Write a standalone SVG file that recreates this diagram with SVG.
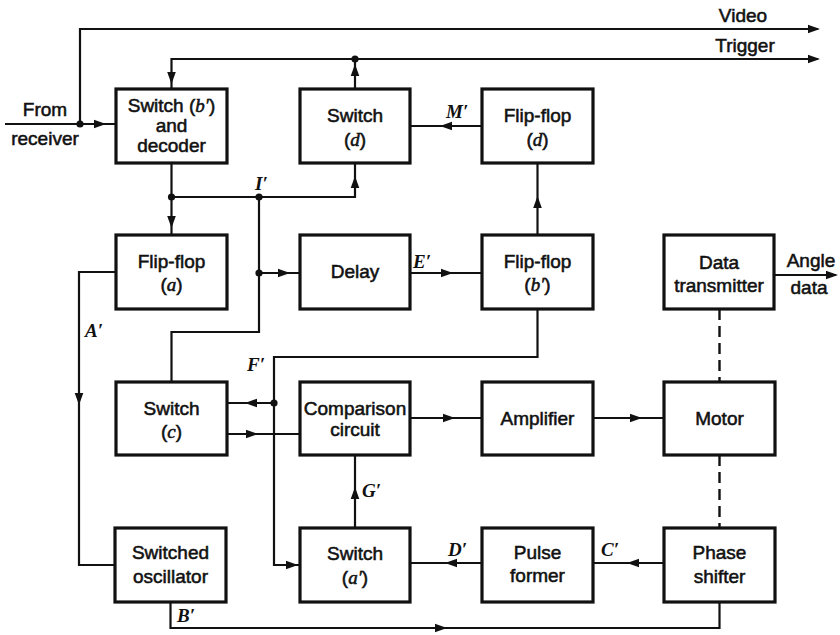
<svg xmlns="http://www.w3.org/2000/svg" width="840" height="635" viewBox="0 0 840 635">
<defs>
<style>
.bx{fill:#fff;stroke:#111;stroke-width:3.2}
.ln{fill:none;stroke:#111;stroke-width:2.2}
.da{fill:none;stroke:#111;stroke-width:2.4;stroke-dasharray:11 6}
.t{font-family:"Liberation Sans",Arial,sans-serif;font-size:19px;text-anchor:middle;fill:#111;stroke:#111;stroke-width:0.55}
.i{font-family:"Liberation Serif","Times New Roman",serif;font-style:italic}
.s{font-family:"Liberation Serif","Times New Roman",serif;font-style:italic;font-weight:bold;font-size:19px;fill:#111}
.dot{fill:#111}
.ah{fill:#111}
</style>
<path id="ah" d="M0,0 L-12,-4.3 L-12,4.3 Z"/>
</defs>
<rect width="840" height="635" fill="#fff"/>

<g id="connectors">
<path class="ln" d="M5,124 H116"/>
<path class="ln" d="M80,124 V29 H818"/>
<path class="ln" d="M171.5,89 V59 H818"/>
<path class="ln" d="M355,89 V59"/>
<path class="ln" d="M171.5,163 V235"/>
<path class="ln" d="M171.5,197 H355 V163"/>
<path class="ln" d="M259,197 V332 H171.5 V382"/>
<path class="ln" d="M259,273 H300"/>
<path class="ln" d="M410,273 H482"/>
<path class="ln" d="M537.5,235 V163"/>
<path class="ln" d="M482,126 H410"/>
<path class="ln" d="M537.5,309 V357 H274 V565 H300"/>
<path class="ln" d="M274,403 H227"/>
<path class="ln" d="M227,434 H300"/>
<path class="ln" d="M355,528 V455"/>
<path class="ln" d="M482,563 H410"/>
<path class="ln" d="M664,563 H593"/>
<path class="ln" d="M170.5,602 V628 H719.5 V602"/>
<path class="ln" d="M116,272 H79 V565 H115"/>
<path class="ln" d="M410,418 H482"/>
<path class="ln" d="M593,418 H664"/>
<path class="ln" d="M774,275 H836"/>
<path class="da" d="M719.5,309 V382 M719.5,455 V528"/>
<g class="ah">
<use href="#ah" transform="translate(106,124)"/>
<use href="#ah" transform="translate(820,29)"/>
<use href="#ah" transform="translate(820,59)"/>
<use href="#ah" transform="translate(171.5,84) rotate(90)"/>
<use href="#ah" transform="translate(355,64) rotate(-90)"/>
<use href="#ah" transform="translate(171.5,228) rotate(90)"/>
<use href="#ah" transform="translate(355,176) rotate(-90)"/>
<use href="#ah" transform="translate(290,273)"/>
<use href="#ah" transform="translate(453,273)"/>
<use href="#ah" transform="translate(537.5,196) rotate(-90)"/>
<use href="#ah" transform="translate(440,126) rotate(180)"/>
<use href="#ah" transform="translate(298,565)"/>
<use href="#ah" transform="translate(245,403) rotate(180)"/>
<use href="#ah" transform="translate(258,434)"/>
<use href="#ah" transform="translate(355,487) rotate(-90)"/>
<use href="#ah" transform="translate(445,563) rotate(180)"/>
<use href="#ah" transform="translate(627,563) rotate(180)"/>
<use href="#ah" transform="translate(447,628)"/>
<use href="#ah" transform="translate(79,405) rotate(90)"/>
<use href="#ah" transform="translate(455,418)"/>
<use href="#ah" transform="translate(642,418)"/>
<use href="#ah" transform="translate(838,275)"/>
</g>
<g class="dot">
<circle cx="80" cy="124" r="3.6"/>
<circle cx="355" cy="59" r="3.6"/>
<circle cx="171.5" cy="197" r="3.6"/>
<circle cx="259" cy="197" r="3.6"/>
<circle cx="259" cy="273" r="3.6"/>
<circle cx="274" cy="403" r="3.6"/>
</g>
<text class="s" x="255" y="190">I′</text>
<text class="s" x="446" y="118">M′</text>
<text class="s" x="413" y="268">E′</text>
<text class="s" x="85" y="337">A′</text>
<text class="s" x="247" y="371">F′</text>
<text class="s" x="362" y="497">G′</text>
<text class="s" x="448" y="556">D′</text>
<text class="s" x="601" y="556">C′</text>
<text class="s" x="177" y="622">B′</text>
<text class="t" x="45" y="116">From</text>
<text class="t" x="45" y="145">receiver</text>
<text class="t" x="743" y="22">Video</text>
<text class="t" x="745" y="52">Trigger</text>
<text class="t" x="811" y="267">Angle</text>
<text class="t" x="809" y="294">data</text>
</g>

<g id="switch-b-decoder">
<rect class="bx" x="116" y="89" width="111" height="74"/>
<text class="t" x="171.5" y="112">Switch (<tspan class="i">b′</tspan>)</text>
<text class="t" x="171.5" y="132">and</text>
<text class="t" x="171.5" y="152">decoder</text>
</g>
<g id="switch-d">
<rect class="bx" x="300" y="89" width="110" height="74"/>
<text class="t" x="355" y="122">Switch</text>
<text class="t" x="355" y="146">(<tspan class="i">d</tspan>)</text>
</g>
<g id="flipflop-d">
<rect class="bx" x="482" y="89" width="111" height="74"/>
<text class="t" x="537.5" y="122">Flip-flop</text>
<text class="t" x="537.5" y="146">(<tspan class="i">d</tspan>)</text>
</g>
<g id="flipflop-a">
<rect class="bx" x="116" y="235" width="111" height="74"/>
<text class="t" x="171.5" y="268">Flip-flop</text>
<text class="t" x="171.5" y="291">(<tspan class="i">a</tspan>)</text>
</g>
<g id="delay">
<rect class="bx" x="300" y="235" width="110" height="74"/>
<text class="t" x="355" y="278">Delay</text>
</g>
<g id="flipflop-b">
<rect class="bx" x="482" y="235" width="111" height="74"/>
<text class="t" x="537.5" y="268">Flip-flop</text>
<text class="t" x="537.5" y="291">(<tspan class="i">b′</tspan>)</text>
</g>
<g id="data-transmitter">
<rect class="bx" x="664" y="235" width="110" height="74"/>
<text class="t" x="719" y="269">Data</text>
<text class="t" x="719" y="292">transmitter</text>
</g>
<g id="switch-c">
<rect class="bx" x="116" y="382" width="111" height="73"/>
<text class="t" x="171.5" y="415">Switch</text>
<text class="t" x="171.5" y="438">(<tspan class="i">c</tspan>)</text>
</g>
<g id="comparison-circuit">
<rect class="bx" x="300" y="382" width="110" height="73"/>
<text class="t" x="355" y="415">Comparison</text>
<text class="t" x="355" y="436">circuit</text>
</g>
<g id="amplifier">
<rect class="bx" x="482" y="382" width="111" height="73"/>
<text class="t" x="537.5" y="425">Amplifier</text>
</g>
<g id="motor">
<rect class="bx" x="664" y="382" width="111" height="73"/>
<text class="t" x="719.5" y="425">Motor</text>
</g>
<g id="switched-oscillator">
<rect class="bx" x="115" y="528" width="111" height="74"/>
<text class="t" x="170.5" y="559">Switched</text>
<text class="t" x="170.5" y="583">oscillator</text>
</g>
<g id="switch-a">
<rect class="bx" x="300" y="528" width="110" height="74"/>
<text class="t" x="355" y="560">Switch</text>
<text class="t" x="355" y="584">(<tspan class="i">a′</tspan>)</text>
</g>
<g id="pulse-former">
<rect class="bx" x="482" y="528" width="111" height="74"/>
<text class="t" x="537.5" y="559">Pulse</text>
<text class="t" x="537.5" y="582">former</text>
</g>
<g id="phase-shifter">
<rect class="bx" x="664" y="528" width="111" height="74"/>
<text class="t" x="719.5" y="559">Phase</text>
<text class="t" x="719.5" y="583">shifter</text>
</g>
</svg>
